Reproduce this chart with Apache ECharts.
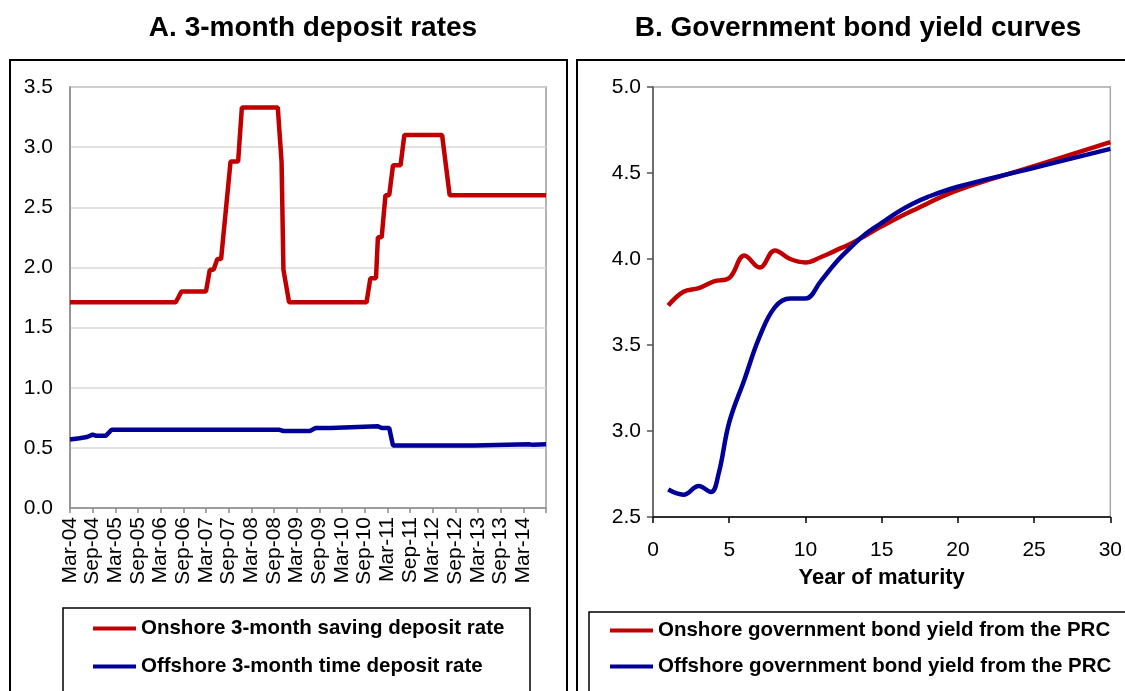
<!DOCTYPE html>
<html>
<head>
<meta charset="utf-8">
<script src="https://cdn.jsdelivr.net/npm/echarts@6/dist/echarts.min.js"></script>
<style>
html,body{margin:0;padding:0;background:#fff;}
#chart{width:1125px;height:691px;}
</style>
</head>
<body>
<div id="chart"></div>
<script>
// Panel A: x = months since Mar-04 (0 = Mar-04, 126 = Sep-14), value in %
const depositTickLabels = ['Mar-04','Sep-04','Mar-05','Sep-05','Mar-06','Sep-06','Mar-07','Sep-07','Mar-08','Sep-08','Mar-09','Sep-09','Mar-10','Sep-10','Mar-11','Sep-11','Mar-12','Sep-12','Mar-13','Sep-13','Mar-14'];
const onshoreDeposit = [[0,1.71],[28,1.71],[29.5,1.80],[36,1.80],[37,1.98],[38,1.98],[39,2.07],[40,2.07],[42.5,2.88],[44.5,2.88],[45.5,3.33],[55,3.33],[56,2.88],[56.5,1.98],[58,1.71],[78.5,1.71],[79.5,1.91],[81,1.91],[81.5,2.25],[82.5,2.25],[83.5,2.60],[84.5,2.60],[85.5,2.85],[87.5,2.85],[88.5,3.10],[98.5,3.10],[100.5,2.60],[126,2.60]];
const offshoreDeposit = [[0,0.57],[2.5,0.58],[4.5,0.59],[6,0.61],[7,0.60],[9.5,0.60],[11,0.65],[55.5,0.65],[56.5,0.64],[63.5,0.64],[65,0.665],[69,0.665],[69.5,0.68],[81.5,0.68],[82.5,0.665],[84.5,0.665],[85.5,0.52],[107,0.52],[107.5,0.53],[121.5,0.53],[122.5,0.525],[126,0.53]];
const depositNames = ['Onshore 3-month saving deposit rate','Offshore 3-month time deposit rate'];

// Panel B: [year of maturity, yield %]
const onshoreYield = [[1,3.73],[2,3.81],[3,3.83],[4,3.87],[5,3.89],[6,4.02],[7,3.95],[8,4.05],[9,4.00],[10,3.98],[11,4.01],[12,4.05],[13,4.09],[14,4.14],[15,4.19],[17,4.28],[20,4.40],[25,4.54],[30,4.68]];
const offshoreYield = [[1,2.66],[2,2.63],[3,2.68],[3.8,2.645],[4.3,2.75],[5,3.05],[6,3.30],[7,3.55],[8,3.72],[9,3.77],[10,3.77],[11,3.87],[12,3.98],[13,4.07],[14,4.15],[15,4.21],[16,4.27],[17,4.32],[18,4.36],[20,4.42],[25,4.53],[30,4.64]];
const yieldNames = ['Onshore government bond yield from the PRC','Offshore government bond yield from the PRC'];

const RED = '#C00000', BLUE = '#000099';
const FONT = 'Liberation Sans, Arial, sans-serif';

const chart = echarts.init(document.getElementById('chart'), null, {renderer:'canvas'});
chart.setOption({
  animation: false,
  backgroundColor: '#fff',
  textStyle: {fontFamily: FONT},
  title: [
    {text:'A. 3-month deposit rates', left:313, top:14, textAlign:'center', padding:0,
     textStyle:{fontFamily:FONT, fontSize:28, fontWeight:'bold', color:'#000'}},
    {text:'B. Government bond yield curves', left:858, top:14, textAlign:'center', padding:0,
     textStyle:{fontFamily:FONT, fontSize:28, fontWeight:'bold', color:'#000'}}
  ],
  graphic: [
    {type:'rect', shape:{x:10, y:60, width:557, height:700}, style:{fill:'none', stroke:'#000', lineWidth:2}, silent:true},
    {type:'rect', shape:{x:577, y:60, width:620, height:700}, style:{fill:'none', stroke:'#000', lineWidth:2}, silent:true},
    {type:'rect', shape:{x:63, y:608, width:467, height:120}, style:{fill:'none', stroke:'#000', lineWidth:1.5}, silent:true},
    {type:'rect', shape:{x:589, y:612, width:620, height:120}, style:{fill:'none', stroke:'#000', lineWidth:1.5}, silent:true}
  ],
  legend: [
    {data: depositNames, orient:'vertical', left:93, top:618, itemWidth:43, itemHeight:4, itemGap:17, icon:'rect',
     padding:0, textStyle:{fontFamily:FONT, fontSize:20.5, fontWeight:'bold', color:'#000'}},
    {data: yieldNames, orient:'vertical', left:610, top:620, itemWidth:43, itemHeight:4, itemGap:15, icon:'rect',
     padding:0, textStyle:{fontFamily:FONT, fontSize:20.5, fontWeight:'bold', color:'#000'}}
  ],
  grid: [
    {left:70, top:87, width:476, height:421, show:true, borderColor:'#9a9a9a', borderWidth:1.5, containLabel:false},
    {left:653, top:87, width:459, height:430, show:true, borderColor:'#a8a8a8', borderWidth:1.5, containLabel:false}
  ],
  xAxis: [
    {gridIndex:0, type:'value', min:0, max:126, interval:6,
     axisLine:{show:true, lineStyle:{color:'#8c8c8c', width:1.5}},
     axisTick:{show:true, length:5, lineStyle:{color:'#8c8c8c', width:1.5}},
     splitLine:{show:false},
     axisLabel:{rotate:90, margin:9, fontSize:21, color:'#000', fontFamily:FONT,
       formatter: v => depositTickLabels[Math.round(v/6)] || ''}},
    {gridIndex:1, type:'value', min:0, max:30, interval:5,
     name:'Year of maturity', nameLocation:'middle', nameGap:50,
     nameTextStyle:{fontFamily:FONT, fontSize:22, fontWeight:'bold', color:'#000'},
     axisLine:{show:true, lineStyle:{color:'#000', width:1.5}},
     axisTick:{show:true, length:6, lineStyle:{color:'#000', width:1.5}},
     splitLine:{show:false},
     axisLabel:{margin:23, fontSize:21, color:'#000', fontFamily:FONT}}
  ],
  yAxis: [
    {gridIndex:0, type:'value', min:0, max:3.5, interval:0.5,
     axisLine:{show:true, lineStyle:{color:'#8c8c8c', width:1.5}},
     axisTick:{show:false},
     splitLine:{show:true, lineStyle:{color:'#d9d9d9', width:1.5}},
     axisLabel:{margin:17, fontSize:21, color:'#000', fontFamily:FONT, formatter: v => v.toFixed(1)}},
    {gridIndex:1, type:'value', min:2.5, max:5.0, interval:0.5,
     axisLine:{show:true, lineStyle:{color:'#555', width:1.5}},
     axisTick:{show:true, length:6, lineStyle:{color:'#555', width:1.5}},
     splitLine:{show:false},
     axisLabel:{margin:12, fontSize:21, color:'#000', fontFamily:FONT, formatter: v => v.toFixed(1)}}
  ],
  series: [
    {name:depositNames[0], type:'line', xAxisIndex:0, yAxisIndex:0, data:onshoreDeposit, showSymbol:false,
     lineStyle:{color:RED, width:4.5}, itemStyle:{color:RED}},
    {name:depositNames[1], type:'line', xAxisIndex:0, yAxisIndex:0, data:offshoreDeposit, showSymbol:false,
     lineStyle:{color:BLUE, width:4.5}, itemStyle:{color:BLUE}},
    {name:yieldNames[0], type:'line', xAxisIndex:1, yAxisIndex:1, data:onshoreYield, showSymbol:false, smooth:0.4,
     lineStyle:{color:RED, width:4.5}, itemStyle:{color:RED}},
    {name:yieldNames[1], type:'line', xAxisIndex:1, yAxisIndex:1, data:offshoreYield, showSymbol:false, smooth:0.4,
     lineStyle:{color:BLUE, width:4.5}, itemStyle:{color:BLUE}}
  ]
});
</script>
</body>
</html>
